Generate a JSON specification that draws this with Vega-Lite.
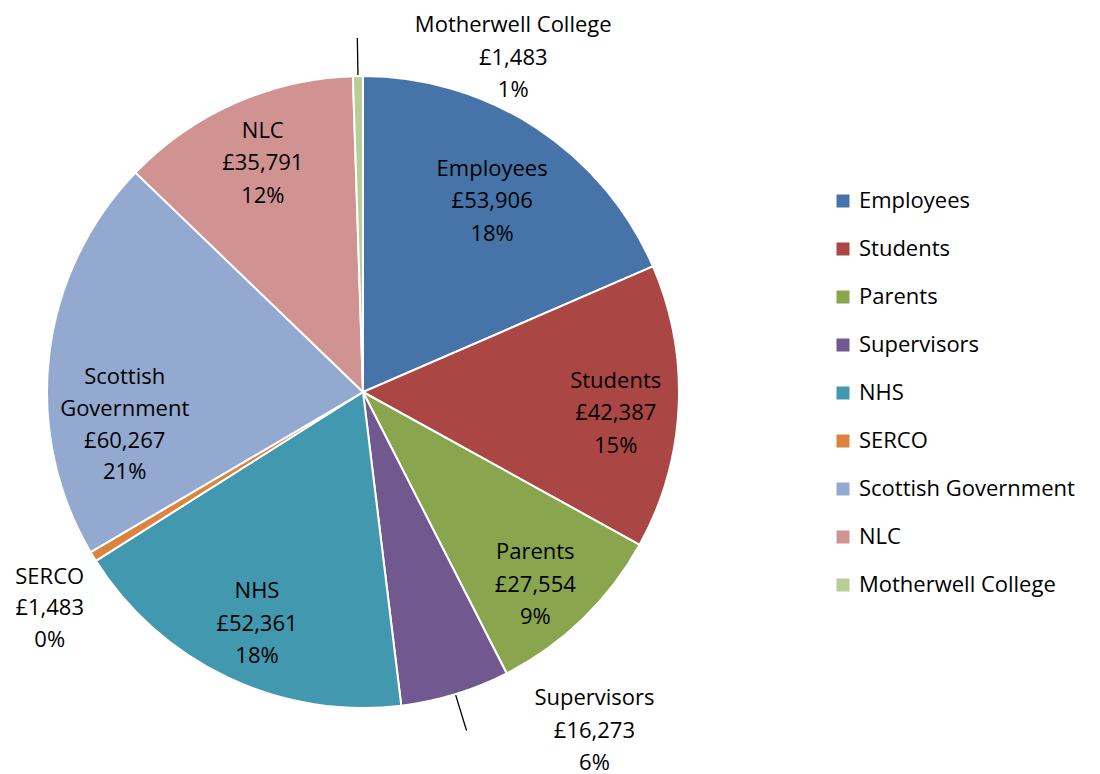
{
  "$schema": "https://vega.github.io/schema/vega-lite/v6.json",
  "width": 726,
  "height": 764,
  "padding": {"left": 0, "top": 10, "right": 0, "bottom": 0},
  "autosize": {"type": "pad"},
  "background": "white",
  "config": {"view": {"stroke": null}, "font": "Open Sans", "text": {"fontSize": 22, "lineBreak": "\n", "lineHeight": 32.5, "color": "black"}},
  "data": {
    "values": [
      {"idx": 1, "name": "Employees", "value": 53906, "label": "Employees\n£53,906\n18%"},
      {"idx": 2, "name": "Students", "value": 42387, "label": "Students\n£42,387\n15%"},
      {"idx": 3, "name": "Parents", "value": 27554, "label": "Parents\n£27,554\n9%"},
      {"idx": 4, "name": "Supervisors", "value": 16273, "label": "Supervisors\n£16,273\n6%"},
      {"idx": 5, "name": "NHS", "value": 52361, "label": "NHS\n£52,361\n18%"},
      {"idx": 6, "name": "SERCO", "value": 1483, "label": "SERCO\n£1,483\n0%"},
      {"idx": 7, "name": "Scottish Government", "value": 60267, "label": "Scottish\nGovernment\n£60,267\n21%"},
      {"idx": 8, "name": "NLC", "value": 35791, "label": "NLC\n£35,791\n12%"},
      {"idx": 9, "name": "Motherwell College", "value": 1483, "label": "Motherwell College\n£1,483\n1%"}
    ]
  },
  "encoding": {
    "theta": {"field": "value", "type": "quantitative", "stack": true},
    "order": {"field": "idx", "type": "quantitative"}
  },
  "layer": [
    {
      "mark": {"type": "arc", "outerRadius": 316, "stroke": "white", "strokeWidth": 2},
      "encoding": {
        "color": {
          "field": "name",
          "type": "nominal",
          "scale": {
            "domain": ["Employees", "Students", "Parents", "Supervisors", "NHS", "SERCO", "Scottish Government", "NLC", "Motherwell College"],
            "range": ["#4673A8", "#AA4643", "#89A54E", "#71588F", "#4198AF", "#DB843D", "#93A9CF", "#D19392", "#B9CD96"]
          },
          "legend": {
            "title": null,
            "orient": "none",
            "legendX": 832,
            "legendY": 180,
            "padding": 0,
            "symbolType": "square",
            "symbolSize": 169,
            "symbolStrokeWidth": 0,
            "labelFontSize": 22,
            "labelFont": "Open Sans",
            "labelColor": "black",
            "rowPadding": 26,
            "labelOffset": 5,
            "labelLimit": 400
          }
        }
      }
    },
    {
      "mark": {"type": "arc", "innerRadius": 317, "outerRadius": 354, "padAngle": 0.5, "filled": false, "stroke": "black", "strokeWidth": 1.3},
      "encoding": {
        "strokeOpacity": {"condition": {"test": "datum.name === 'Motherwell College' || datum.name === 'Supervisors'", "value": 1}, "value": 0}
      }
    },
    {
      "mark": {"type": "text", "radius": 228, "dx": 4, "dy": -32.5},
      "encoding": {"text": {"condition": {"test": "datum.name === 'Employees'", "field": "label", "type": "nominal"}, "value": ""}}
    },
    {
      "mark": {"type": "text", "radius": 252, "dx": 1, "dy": -23.5},
      "encoding": {"text": {"condition": {"test": "datum.name === 'Students'", "field": "label", "type": "nominal"}, "value": ""}}
    },
    {
      "mark": {"type": "text", "radius": 252, "dx": -3, "dy": -21},
      "encoding": {"text": {"condition": {"test": "datum.name === 'Parents'", "field": "label", "type": "nominal"}, "value": ""}}
    },
    {
      "mark": {"type": "text", "radius": 252, "dx": 2, "dy": -28.5},
      "encoding": {"text": {"condition": {"test": "datum.name === 'NHS'", "field": "label", "type": "nominal"}, "value": ""}}
    },
    {
      "mark": {"type": "text", "radius": 252, "dx": 2, "dy": -31},
      "encoding": {"text": {"condition": {"test": "datum.name === 'NLC'", "field": "label", "type": "nominal"}, "value": ""}}
    },
    {
      "mark": {"type": "text", "radius": 245, "dx": 5, "dy": 14, "lineHeight": 31.7},
      "encoding": {"text": {"condition": {"test": "datum.name === 'Scottish Government'", "field": "label", "type": "nominal"}, "value": ""}}
    },
    {
      "mark": {"type": "text", "radius": 335, "dx": 155.6, "dy": -32},
      "encoding": {"text": {"condition": {"test": "datum.name === 'Motherwell College'", "field": "label", "type": "nominal"}, "value": ""}}
    },
    {
      "mark": {"type": "text", "radius": 340, "dx": 132, "dy": -19},
      "encoding": {"text": {"condition": {"test": "datum.name === 'Supervisors'", "field": "label", "type": "nominal"}, "value": ""}}
    },
    {
      "mark": {"type": "text", "radius": 340, "dx": -23, "dy": 7.5, "lineHeight": 31.7},
      "encoding": {"text": {"condition": {"test": "datum.name === 'SERCO'", "field": "label", "type": "nominal"}, "value": ""}}
    }
  ]
}
